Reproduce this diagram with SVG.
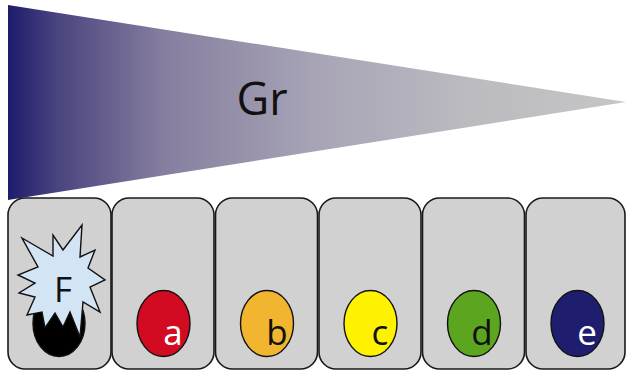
<svg xmlns="http://www.w3.org/2000/svg" width="626" height="371" viewBox="0 0 626 371">
  <defs>
    <linearGradient id="gradFill" x1="8" y1="0" x2="626" y2="0" gradientUnits="userSpaceOnUse">
      <stop offset="0" stop-color="#1e1c6c"/>
      <stop offset="0.08" stop-color="#4a447f"/>
      <stop offset="0.25" stop-color="#857e9f"/>
      <stop offset="0.5" stop-color="#a8a4b6"/>
      <stop offset="0.75" stop-color="#bbbbc0"/>
      <stop offset="1" stop-color="#c6c6c6"/>
    </linearGradient>
  </defs>
  <style>
    .cell { fill: #d1d1d1; stroke: #1a1a1a; stroke-width: 1.6; }
    .oval { stroke: #111; stroke-width: 1.4; }
    .lbl { font-family: "Open Sans", "DejaVu Sans", sans-serif; font-size: 35px; }
    .dark { fill: #111; }
    .light { fill: #fff; }
  </style>

  <!-- gradient wedge -->
  <g id="gradient">
    <polygon points="8,5 626,102 8,200" fill="url(#gradFill)"/>
    <text x="262" y="115" text-anchor="middle" font-family="'Open Sans', 'DejaVu Sans', sans-serif" font-size="45" fill="#111">Gr</text>
  </g>

  <!-- row of cells -->
  <g id="cell-F">
    <rect class="cell" x="8" y="198" width="103" height="171" rx="17"/>
    <ellipse cx="59" cy="323.5" rx="26" ry="33" fill="#000" class="oval"/>
    <polygon points="22,238 53,256 53,235 63,250 82,225 80,257 95,250 88,268 105,280 90,287 100,312 83,302 80,337 70,312 63,327 55,313 45,328 42,312 27,315 35,297 19,293 35,283 18,275 38,267"
             fill="#d3e4f5" stroke="#111" stroke-width="1.4" stroke-linejoin="miter"/>
    <text class="lbl dark" x="63" y="302" text-anchor="middle" font-size="33">F</text>
  </g>
  <g id="cell-a">
    <rect class="cell" x="112" y="198" width="102" height="171" rx="17"/>
    <ellipse class="oval" cx="163.5" cy="323.5" rx="26.5" ry="33" fill="#d20a22"/>
    <text class="lbl light" x="173" y="345" text-anchor="middle">a</text>
  </g>
  <g id="cell-b">
    <rect class="cell" x="215.5" y="198" width="102" height="171" rx="17"/>
    <ellipse class="oval" cx="267" cy="323.5" rx="26.5" ry="33" fill="#f1b52f"/>
    <text class="lbl dark" x="277" y="345" text-anchor="middle">b</text>
  </g>
  <g id="cell-c">
    <rect class="cell" x="319" y="198" width="102" height="171" rx="17"/>
    <ellipse class="oval" cx="370.5" cy="323.5" rx="26.5" ry="33" fill="#fff200"/>
    <text class="lbl dark" x="380" y="345" text-anchor="middle">c</text>
  </g>
  <g id="cell-d">
    <rect class="cell" x="422.5" y="198" width="102" height="171" rx="17"/>
    <ellipse class="oval" cx="474" cy="323.5" rx="26.5" ry="33" fill="#5ba61e"/>
    <text class="lbl dark" x="482" y="345" text-anchor="middle">d</text>
  </g>
  <g id="cell-e">
    <rect class="cell" x="526" y="198" width="99" height="171" rx="17"/>
    <ellipse class="oval" cx="577.5" cy="323.5" rx="26.5" ry="33" fill="#1f1e6e"/>
    <text class="lbl light" x="587" y="345" text-anchor="middle">e</text>
  </g>

  <!-- no connectors in this figure -->
  <g id="connectors"/>
</svg>
